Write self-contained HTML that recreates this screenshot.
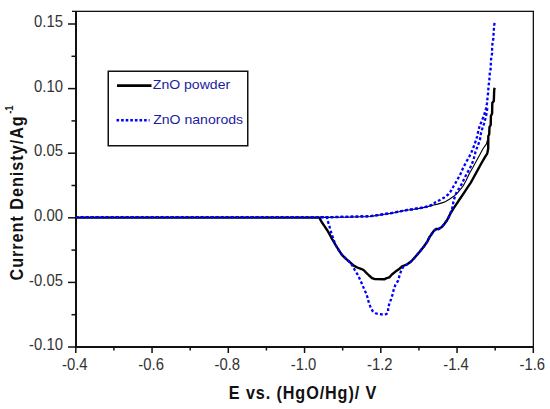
<!DOCTYPE html>
<html><head><meta charset="utf-8"><style>
html,body{margin:0;padding:0;background:#fff;}
body{width:550px;height:409px;overflow:hidden;}
svg{display:block;}
text{font-family:"Liberation Sans",sans-serif;}
.tl{font-size:16.5px;fill:#333;}
.at{font-size:19px;font-weight:bold;fill:#111;letter-spacing:1.05px;}
.yt{letter-spacing:1.15px;}
.lg{font-size:12px;fill:#1c1ca0;}
</style></head><body>
<svg width="550" height="409" viewBox="0 0 550 409">
<rect width="550" height="409" fill="#fff"/>
<rect x="75" y="11" width="2" height="337" fill="#111"/>
<rect x="75" y="346" width="459" height="2" fill="#111"/>
<rect x="72" y="10.7" width="462" height="1.3" fill="#111"/>
<rect x="532.7" y="11" width="1.3" height="336" fill="#111"/>
<rect x="68" y="23.25" width="8" height="1.5" fill="#111"/>
<rect x="71.5" y="55.55" width="4.5" height="1.5" fill="#111"/>
<rect x="68" y="87.85" width="8" height="1.5" fill="#111"/>
<rect x="71.5" y="120.15" width="4.5" height="1.5" fill="#111"/>
<rect x="68" y="152.45" width="8" height="1.5" fill="#111"/>
<rect x="71.5" y="184.75" width="4.5" height="1.5" fill="#111"/>
<rect x="68" y="217.05" width="8" height="1.5" fill="#111"/>
<rect x="71.5" y="249.35" width="4.5" height="1.5" fill="#111"/>
<rect x="68" y="281.65" width="8" height="1.5" fill="#111"/>
<rect x="71.5" y="313.95" width="4.5" height="1.5" fill="#111"/>
<rect x="68" y="346.25" width="8" height="1.5" fill="#111"/>
<rect x="75.05" y="347" width="1.5" height="6" fill="#111"/>
<rect x="113.17" y="347" width="1.5" height="3.5" fill="#111"/>
<rect x="151.30" y="347" width="1.5" height="6" fill="#111"/>
<rect x="189.43" y="347" width="1.5" height="3.5" fill="#111"/>
<rect x="227.55" y="347" width="1.5" height="6" fill="#111"/>
<rect x="265.68" y="347" width="1.5" height="3.5" fill="#111"/>
<rect x="303.80" y="347" width="1.5" height="6" fill="#111"/>
<rect x="341.92" y="347" width="1.5" height="3.5" fill="#111"/>
<rect x="380.05" y="347" width="1.5" height="6" fill="#111"/>
<rect x="418.18" y="347" width="1.5" height="3.5" fill="#111"/>
<rect x="456.30" y="347" width="1.5" height="6" fill="#111"/>
<rect x="494.42" y="347" width="1.5" height="3.5" fill="#111"/>
<rect x="532.55" y="347" width="1.5" height="6" fill="#111"/>
<text transform="translate(62.9,27.1) scale(0.9,1)" text-anchor="end" class="tl">0.15</text>
<text transform="translate(62.9,91.7) scale(0.9,1)" text-anchor="end" class="tl">0.10</text>
<text transform="translate(62.9,156.3) scale(0.9,1)" text-anchor="end" class="tl">0.05</text>
<text transform="translate(62.9,220.9) scale(0.9,1)" text-anchor="end" class="tl">0.00</text>
<text transform="translate(62.9,285.5) scale(0.9,1)" text-anchor="end" class="tl">-0.05</text>
<text transform="translate(62.9,350.1) scale(0.9,1)" text-anchor="end" class="tl">-0.10</text>
<text transform="translate(74.8,369.6) scale(0.9,1)" text-anchor="middle" class="tl">-0.4</text>
<text transform="translate(151.1,369.6) scale(0.9,1)" text-anchor="middle" class="tl">-0.6</text>
<text transform="translate(227.3,369.6) scale(0.9,1)" text-anchor="middle" class="tl">-0.8</text>
<text transform="translate(303.5,369.6) scale(0.9,1)" text-anchor="middle" class="tl">-1.0</text>
<text transform="translate(379.8,369.6) scale(0.9,1)" text-anchor="middle" class="tl">-1.2</text>
<text transform="translate(456.0,369.6) scale(0.9,1)" text-anchor="middle" class="tl">-1.4</text>
<text transform="translate(532.3,369.6) scale(0.9,1)" text-anchor="middle" class="tl">-1.6</text>
<text transform="translate(228.8,398.9) scale(0.853,1)" class="at">E vs. (HgO/Hg)/ V</text>
<text transform="translate(23.0,280.5) rotate(-90) scale(0.853,1)" class="at yt">Current Denisty/Ag<tspan dx="1.8" dy="-10" font-size="11" font-weight="bold" letter-spacing="0">-1</tspan></text>
<polyline points="76.0,217.6 319.3,217.6 321.5,221.7 324.5,226.1 327.4,230.5 330.3,235.7 332.3,239.4 335.3,244.5 338.9,250.4 341.9,254.8 346.3,259.2 350.7,262.9 353.7,265.6 357.3,267.5 361.0,268.9 363.6,270.0 366.1,272.6 369.1,275.5 372.0,278.1 375.0,279.1 384.5,279.3 386.0,278.4 389.3,277.4 391.9,274.5 395.5,271.6 399.2,269.0 402.1,266.4 406.8,264.5 411.1,261.5 415.4,256.8 419.7,251.7 423.9,246.5 427.4,241.4 429.5,237.1 431.0,235.0 433.6,231.1 436.1,229.0 438.7,229.0 442.1,226.8 444.7,223.4 447.2,220.0 449.4,215.5 451.0,212.5 453.7,208.2 457.1,203.1 460.5,198.0 464.0,192.8 467.4,187.7 470.8,182.6 472.5,179.5 476.4,172.4 480.7,164.5 484.8,157.3 487.3,153.4 488.2,148.5 488.3,136.0 489.2,134.5 489.5,127.0 490.7,125.0 490.9,116.0 492.1,113.5 492.3,103.0 493.8,101.0 494.2,90.0 494.6,87.8" fill="none" stroke="#000" stroke-width="2.4" stroke-linejoin="round"/>
<polyline points="319.3,217.4 345.0,217.2 370.0,216.5 377.3,215.4 384.5,214.3 391.8,213.2 399.1,211.7 406.4,210.3 412.3,209.5 419.5,208.4 426.8,206.9 432.6,205.2 437.7,204.1 443.5,202.4 446.0,201.3 449.4,199.3 453.7,196.3 457.1,193.3 460.5,189.4 463.1,186.0 466.1,180.5 469.5,173.2 473.0,167.2 476.2,161.3 479.8,154.8 483.0,148.8 486.3,144.1 487.5,140.0" fill="none" stroke="#000" stroke-width="1.1" stroke-linejoin="round"/>
<polyline points="76.0,217.2 327.0,217.2 327.4,219.9 329.2,225.4 330.3,229.4 331.4,233.5 333.3,238.6 335.3,244.5 338.9,250.4 341.9,254.8 346.3,259.2 350.0,262.3 352.2,265.3 354.8,270.0 357.3,274.1 358.8,277.0 360.6,280.7 362.4,285.0 365.0,291.0 366.3,293.6 367.6,297.8 368.9,303.0 370.6,307.3 372.7,311.1 375.7,313.3 379.1,314.1 383.8,314.6 386.5,314.0 388.1,311.1 388.1,308.1 389.4,303.4 391.1,299.1 392.4,294.9 393.7,289.7 395.3,285.1 398.1,280.7 399.6,275.2 401.0,271.2 403.2,266.8 406.8,264.5 411.1,261.5 415.4,256.8 419.7,251.7 423.9,246.5 427.4,241.4 429.5,237.1 431.0,235.0 433.6,231.1 436.1,229.0 438.7,229.0 442.1,226.8 444.7,223.4 447.2,220.0 449.4,216.0 450.3,213.5 452.0,209.1 452.8,204.8 453.7,200.5 455.0,196.3 456.7,192.0 459.3,188.1 461.8,183.9 464.4,178.4 467.0,173.2 469.1,169.8 471.7,164.7 473.4,160.0 474.7,155.3 475.5,151.8 476.8,148.4 478.1,145.0 479.9,139.7 480.9,133.8 482.6,127.5 484.1,123.6 485.5,118.2 486.5,113.8 487.5,107.0" fill="none" stroke="#0000ff" stroke-width="2.3" stroke-dasharray="2.8 2.2"/>
<polyline points="76.0,217.2 319.0,217.2 345.0,216.9 370.0,216.2 377.3,215.2 384.5,214.1 391.8,213.0 399.1,211.5 406.4,210.1 412.3,209.3 419.5,208.2 426.8,206.7 432.6,204.8 435.5,202.2 439.9,200.0 444.3,197.5 448.6,194.1 451.1,190.7 453.7,186.0 456.3,181.7 457.6,179.2 460.1,175.0 461.8,170.7 464.4,165.5 466.6,161.3 469.1,157.0 471.3,152.7 473.0,148.4 474.3,145.0 475.3,142.2 477.2,136.3 478.2,131.4 479.7,125.5 481.6,121.6 483.2,117.3 484.8,113.0 485.9,108.7 487.0,103.4 487.5,98.0 488.1,92.6 488.6,85.6 489.3,80.7 489.8,73.0 490.9,67.5 490.8,63.2 491.2,57.7 492.1,53.5 492.1,48.0 492.4,43.7 493.3,38.8 493.6,33.9 493.9,29.0 494.5,22.9" fill="none" stroke="#0000ff" stroke-width="2.3" stroke-dasharray="2.8 2.2" stroke-dashoffset="0.6"/>
<polyline points="319.0,217.2 345.0,216.9 370.0,216.2 377.3,215.2 384.5,214.1 391.8,213.0 399.1,211.5 406.4,210.1 412.3,209.3 419.5,208.2 426.8,206.7 432.6,204.8" fill="none" stroke="#0000ff" stroke-width="2.2" stroke-dasharray="2.8 2.2" stroke-dashoffset="3.3"/>
<rect x="108.25" y="71.25" width="139.5" height="74.5" fill="#fff" stroke="#111" stroke-width="1.5"/>
<line x1="117" y1="85.6" x2="151.5" y2="85.6" stroke="#000" stroke-width="2.6"/>
<line x1="116.5" y1="120.3" x2="149.5" y2="120.3" stroke="#0000ff" stroke-width="2.6" stroke-dasharray="2.6 2"/>
<text transform="translate(152.8,89.4) scale(1.173,1)" class="lg">ZnO powder</text>
<text transform="translate(153.2,124.1) scale(1.173,1)" class="lg">ZnO nanorods</text>
</svg>
</body></html>
